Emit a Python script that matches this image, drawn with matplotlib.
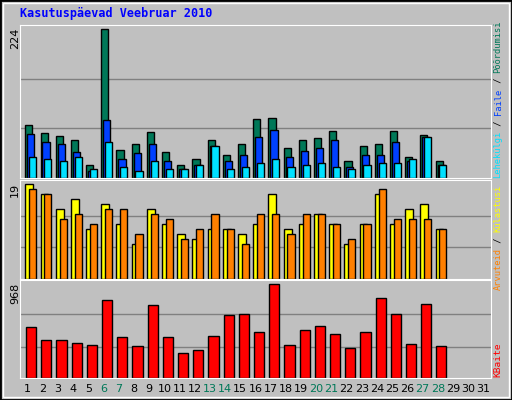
import numpy as np
import matplotlib
matplotlib.use('Agg')
import matplotlib.pyplot as plt
from matplotlib.patches import Rectangle

# Andmed (veebruar 2010)
paevad = [str(i) for i in range(1, 32)]
noraanipaevad = [6, 7, 13, 14, 20, 21, 27, 28]

poordumisi = [80, 67, 63, 57, 20, 224, 42, 51, 69, 39, 19, 28, 57, 35, 51, 89, 90, 45, 57, 60, 70, 25, 48, 51, 70, 32, 64, 25]
faile = [66, 54, 51, 39, 11, 87, 28, 37, 51, 26, 13, 19, 48, 26, 35, 61, 72, 31, 40, 45, 57, 16, 34, 35, 54, 25, 61, 19]
lehekylgi = [32, 29, 26, 31, 14, 54, 16, 11, 25, 13, 13, 20, 48, 14, 17, 22, 29, 16, 20, 22, 17, 14, 20, 22, 22, 28, 61, 19]
kylastusi = [19, 17, 14, 16, 10, 15, 11, 7, 14, 11, 9, 8, 10, 10, 9, 11, 17, 10, 11, 13, 11, 7, 11, 17, 11, 14, 15, 10]
arvuteid = [18, 17, 12, 13, 11, 14, 14, 9, 13, 12, 8, 10, 13, 10, 7, 13, 13, 9, 13, 13, 11, 8, 11, 18, 12, 12, 12, 10]
kbaite = [523, 396, 396, 364, 343, 809, 427, 332, 756, 427, 258, 290, 438, 650, 661, 470, 968, 343, 491, 533, 449, 311, 470, 830, 661, 353, 767, 332]

W, H = 512, 400
fig = plt.figure(figsize=(W / 100, H / 100), dpi=100)
fig.patch.set_facecolor('#c0c0c0')

def ax_px(x0, y0, x1, y1):
    # pikslites (ülevalt) -> figuuri koordinaadid
    return fig.add_axes([x0 / W, 1 - y1 / H, (x1 - x0) / W, (y1 - y0) / H])

GREEN, BLUE, CYAN = '#007858', '#0040ff', '#00e0ff'
YELLOW, ORANGE, RED = '#ffff00', '#ff8000', '#ff0000'
n = len(poordumisi)
x = np.arange(n)

def style(ax, ymax, grid):
    ax.set_facecolor('#c0c0c0')
    ax.set_xlim(0, 31)
    ax.set_ylim(0, ymax)
    for g in grid:
        ax.axhline(g, color='#808080', lw=1, zorder=0)
    ax.set_xticks([])
    ax.set_yticks([])
    for s in ax.spines.values():
        s.set_color('white')

kw = dict(align='edge', edgecolor='black', linewidth=1)

# ülemine paneel
ax1 = ax_px(20, 25, 491, 178)
style(ax1, 224 * 151 / 147, [224 / 3, 224 * 2 / 3])
ax1.bar(x + 0.35, poordumisi, 0.47, color=GREEN, **kw)
ax1.bar(x + 0.48, faile, 0.47, color=BLUE, **kw)
ax1.bar(x + 0.60, lehekylgi, 0.47, color=CYAN, **kw)

# keskmine paneel
ax2 = ax_px(20, 180, 491, 279)
style(ax2, 19 * 96 / 92, [19 / 3, 19 * 2 / 3])
ax2.bar(x + 0.35, kylastusi, 0.52, color=YELLOW, **kw)
ax2.bar(x + 0.6, arvuteid, 0.47, color=ORANGE, **kw)

# alumine paneel
ax3 = ax_px(20, 280, 491, 378)
style(ax3, 968 * 95 / 91, [318, 661])
ax3.bar(x + 0.4, kbaite, 0.67, color=RED, **kw)

# päevad
for i, d in enumerate(paevad):
    c = GREEN if (i + 1) in noraanipaevad else 'black'
    fig.text((20 + (i + 0.5) * 471 / 31) / W, 1 - 389 / H, d, color=c,
             ha='center', va='center', fontsize=8, family='DejaVu Sans')

# vasak silt
mono = 'DejaVu Sans Mono'
for y, t in [(28, '224'), (183, '19'), (283, '968')]:
    fig.text(15 / W, 1 - y / H, t, rotation=90, ha='center', va='top', fontsize=8, family='DejaVu Sans')

fig.text(20 / W, 1 - 14 / H, 'Kasutuspäevad Veebruar 2010', color='#0000ff',
         fontsize=8.5, weight='bold', family=mono, va='center')

# parem silt (sõnad eraldi värvidega)
def vlabel(y_bottom, parts, size=6.5):
    cw = size * 0.602 * 100 / 72
    y = y_bottom
    for t, c in parts:
        fig.text(498 / W, 1 - y / H, t, rotation=90, ha='center', va='bottom',
                 color=c, fontsize=size, family=mono)
        y -= len(t) * cw

vlabel(178, [('Lehekülgi', CYAN), (' / ', 'black'), ('Faile', BLUE), (' / ', 'black'), ('Põõrdumisi', GREEN)], 6.3)
vlabel(290, [('Arvuteid', ORANGE), (' / ', 'black'), ('Külastusi', YELLOW)], 6.3)
vlabel(377, [('KBaite', RED)], 6.8)

# raamid
fig.add_artist(Rectangle((0, 0), 1, 1, transform=fig.transFigure, fill=False, edgecolor='black', lw=2))
fig.add_artist(Rectangle((3 / W, 3 / H), 1 - 6 / W, 1 - 6 / H, transform=fig.transFigure,
                         fill=False, edgecolor='white', lw=1))

fig.savefig('out.png', dpi=100, facecolor=fig.get_facecolor())
